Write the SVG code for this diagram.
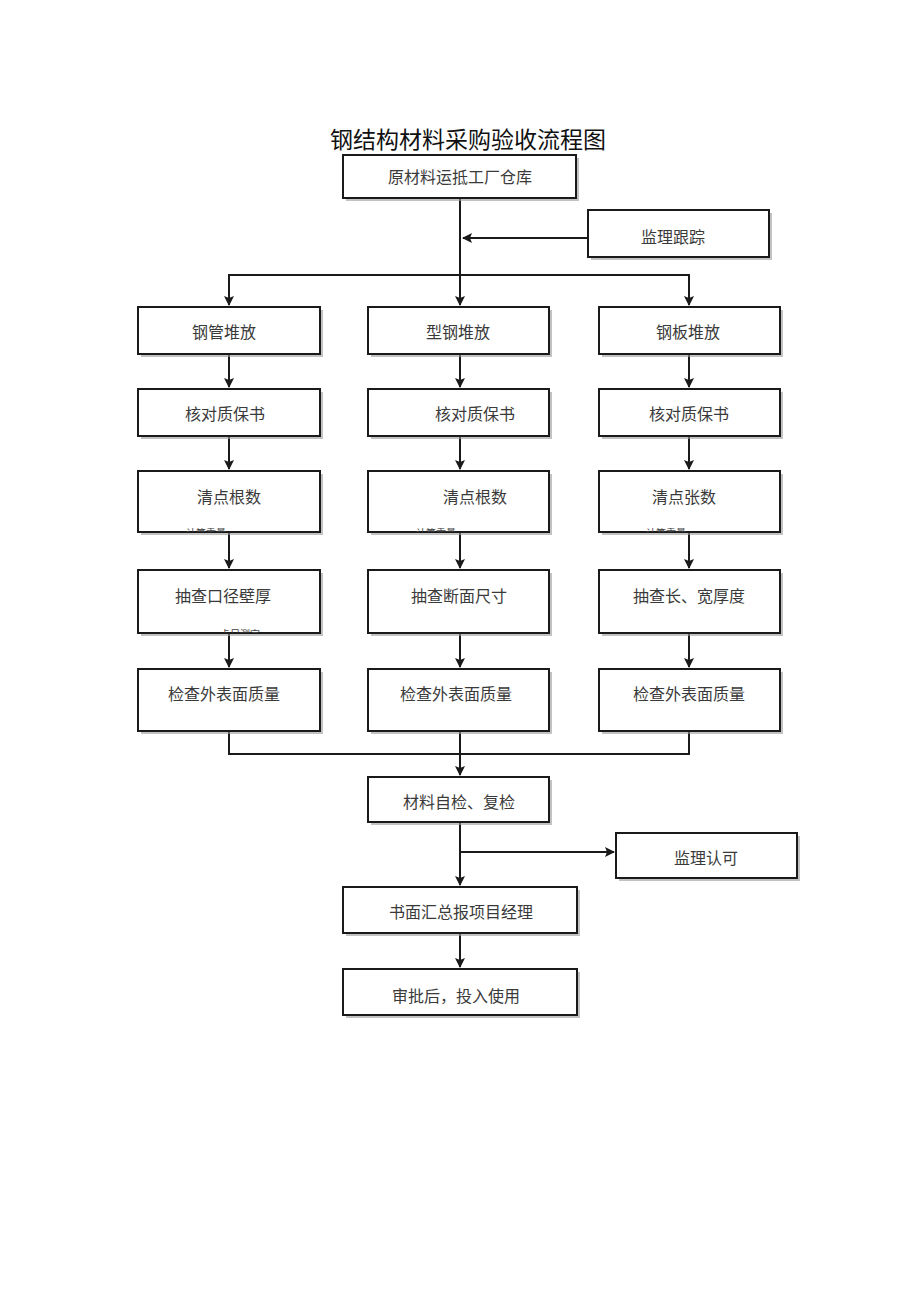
<svg xmlns="http://www.w3.org/2000/svg" width="920" height="1301" viewBox="0 0 920 1301">
<style>
.b{fill:#fff;stroke:#1a1a1a;stroke-width:2}
.s{fill:#9a9a9a;opacity:0.6}
.t{font-family:"Noto Sans CJK SC","Noto Sans CJK JP",sans-serif;font-size:16px;fill:#3a3a3a;text-anchor:middle;dominant-baseline:central}
.f{font-family:"Noto Sans CJK SC",sans-serif;font-size:10px;fill:#444;text-anchor:middle}
.c{fill:none;stroke:#1a1a1a;stroke-width:2}
</style>
<defs>
<marker id="a" viewBox="0 0 10 10" refX="9" refY="5" markerWidth="5" markerHeight="5" orient="auto" markerUnits="strokeWidth">
<path d="M0,0 L10,5 L0,10 L2,5 Z" fill="#1a1a1a"/>
</marker>
<clipPath id="k1"><rect x="138" y="515" width="182" height="17"/></clipPath>
<clipPath id="k2"><rect x="368" y="515" width="181" height="17"/></clipPath>
<clipPath id="k3"><rect x="599" y="515" width="181" height="17"/></clipPath>
<clipPath id="k4"><rect x="138" y="615" width="182" height="18"/></clipPath>
</defs>
<rect width="920" height="1301" fill="#fff"/>
<text x="468" y="138" font-family="Noto Sans CJK SC,sans-serif" font-size="23" fill="#111" text-anchor="middle" dominant-baseline="central">钢结构材料采购验收流程图</text>

<g id="connectors">
<path class="c" d="M460,198 V305" marker-end="url(#a)"/>
<path class="c" d="M588,238 H463" marker-end="url(#a)"/>
<path class="c" d="M229,305 V275 H689 V305"/>
<path class="c" d="M229,275 V305" marker-end="url(#a)"/>
<path class="c" d="M689,275 V305" marker-end="url(#a)"/>
<path class="c" d="M229,354 V387" marker-end="url(#a)"/>
<path class="c" d="M460,354 V387" marker-end="url(#a)"/>
<path class="c" d="M689,354 V387" marker-end="url(#a)"/>
<path class="c" d="M229,436 V469" marker-end="url(#a)"/>
<path class="c" d="M460,436 V469" marker-end="url(#a)"/>
<path class="c" d="M689,436 V469" marker-end="url(#a)"/>
<path class="c" d="M229,532 V568" marker-end="url(#a)"/>
<path class="c" d="M460,532 V568" marker-end="url(#a)"/>
<path class="c" d="M689,532 V568" marker-end="url(#a)"/>
<path class="c" d="M229,633 V667" marker-end="url(#a)"/>
<path class="c" d="M460,633 V667" marker-end="url(#a)"/>
<path class="c" d="M689,633 V667" marker-end="url(#a)"/>
<path class="c" d="M229,731 V754 H689 V731"/>
<path class="c" d="M460,731 V775" marker-end="url(#a)"/>
<path class="c" d="M460,822 V885" marker-end="url(#a)"/>
<path class="c" d="M460,852 H614" marker-end="url(#a)"/>
<path class="c" d="M460,933 V967" marker-end="url(#a)"/>
</g>

<g id="n0"><rect class="s" x="346" y="158" width="233" height="43"/><rect class="b" x="343" y="155" width="233" height="43"/><text class="t" x="460" y="176">原材料运抵工厂仓库</text></g>
<g id="n1"><rect class="s" x="591" y="213" width="181" height="47"/><rect class="b" x="588" y="210" width="181" height="47"/><text class="t" x="673" y="236">监理跟踪</text></g>

<g id="r1a"><rect class="s" x="141" y="310" width="182" height="47"/><rect class="b" x="138" y="307" width="182" height="47"/><text class="t" x="224" y="331">钢管堆放</text></g>
<g id="r1b"><rect class="s" x="371" y="310" width="181" height="47"/><rect class="b" x="368" y="307" width="181" height="47"/><text class="t" x="458" y="331">型钢堆放</text></g>
<g id="r1c"><rect class="s" x="602" y="310" width="181" height="47"/><rect class="b" x="599" y="307" width="181" height="47"/><text class="t" x="688" y="331">钢板堆放</text></g>

<g id="r2a"><rect class="s" x="141" y="392" width="182" height="47"/><rect class="b" x="138" y="389" width="182" height="47"/><text class="t" x="225" y="413">核对质保书</text></g>
<g id="r2b"><rect class="s" x="371" y="392" width="181" height="47"/><rect class="b" x="368" y="389" width="181" height="47"/><text class="t" x="475" y="413">核对质保书</text></g>
<g id="r2c"><rect class="s" x="602" y="392" width="181" height="47"/><rect class="b" x="599" y="389" width="181" height="47"/><text class="t" x="689" y="413">核对质保书</text></g>

<g id="r3a"><rect class="s" x="141" y="474" width="182" height="61"/><rect class="b" x="138" y="471" width="182" height="61"/><text class="t" x="229" y="496">清点根数</text><text class="f" x="206" y="537" clip-path="url(#k1)">计算重量</text></g>
<g id="r3b"><rect class="s" x="371" y="474" width="181" height="61"/><rect class="b" x="368" y="471" width="181" height="61"/><text class="t" x="475" y="496">清点根数</text><text class="f" x="436" y="537" clip-path="url(#k2)">计算重量</text></g>
<g id="r3c"><rect class="s" x="602" y="474" width="181" height="61"/><rect class="b" x="599" y="471" width="181" height="61"/><text class="t" x="684" y="496">清点张数</text><text class="f" x="666" y="537" clip-path="url(#k3)">计算重量</text></g>

<g id="r4a"><rect class="s" x="141" y="573" width="182" height="63"/><rect class="b" x="138" y="570" width="182" height="63"/><text class="t" x="223" y="595">抽查口径壁厚</text><text class="f" x="240" y="638" clip-path="url(#k4)">卡尺测定</text></g>
<g id="r4b"><rect class="s" x="371" y="573" width="181" height="63"/><rect class="b" x="368" y="570" width="181" height="63"/><text class="t" x="459" y="595">抽查断面尺寸</text></g>
<g id="r4c"><rect class="s" x="602" y="573" width="181" height="63"/><rect class="b" x="599" y="570" width="181" height="63"/><text class="t" x="689" y="595">抽查长、宽厚度</text></g>

<g id="r5a"><rect class="s" x="141" y="672" width="182" height="62"/><rect class="b" x="138" y="669" width="182" height="62"/><text class="t" x="224" y="693">检查外表面质量</text></g>
<g id="r5b"><rect class="s" x="371" y="672" width="181" height="62"/><rect class="b" x="368" y="669" width="181" height="62"/><text class="t" x="456" y="693">检查外表面质量</text></g>
<g id="r5c"><rect class="s" x="602" y="672" width="181" height="62"/><rect class="b" x="599" y="669" width="181" height="62"/><text class="t" x="689" y="693">检查外表面质量</text></g>

<g id="n6"><rect class="s" x="371" y="780" width="181" height="45"/><rect class="b" x="368" y="777" width="181" height="45"/><text class="t" x="459" y="801">材料自检、复检</text></g>
<g id="n7"><rect class="s" x="619" y="836" width="181" height="45"/><rect class="b" x="616" y="833" width="181" height="45"/><text class="t" x="706" y="857">监理认可</text></g>
<g id="n8"><rect class="s" x="346" y="890" width="234" height="46"/><rect class="b" x="343" y="887" width="234" height="46"/><text class="t" x="461" y="911">书面汇总报项目经理</text></g>
<g id="n9"><rect class="s" x="346" y="972" width="234" height="46"/><rect class="b" x="343" y="969" width="234" height="46"/><text class="t" x="456" y="995">审批后，投入使用</text></g>
</svg>
